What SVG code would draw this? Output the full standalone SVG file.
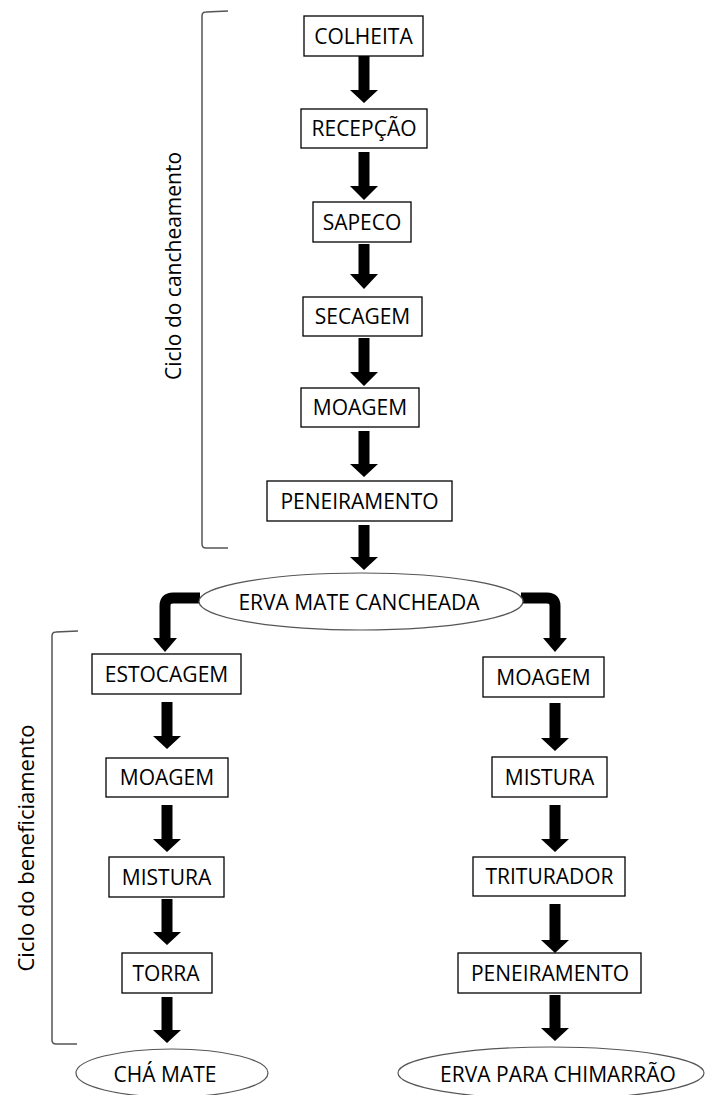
<svg xmlns="http://www.w3.org/2000/svg" width="706" height="1095" viewBox="0 0 706 1095">
<style>
.box{fill:#fff;stroke:#000;stroke-width:1.3}
.ell{fill:#fff;stroke:#555;stroke-width:1.2}
.t{font-family:"Open Sans","Liberation Sans",sans-serif;font-size:21px;fill:#000;text-anchor:middle}
.lbl{font-family:"Open Sans","Liberation Sans",sans-serif;font-size:21px;fill:#000;text-anchor:middle}
.ar{fill:#000}
.bend{fill:none;stroke:#000;stroke-width:11}
.br{fill:none;stroke:#555;stroke-width:1.5}
</style>
<rect width="706" height="1095" fill="#fff"/>
<g id="brackets">
<path class="br" d="M228,11 L206,12 Q202,12 202,16 V544 Q202,548 206,548 L228,548"/>
<path class="br" d="M78,631 L56,632 Q52,632 52,636 V1040 Q52,1044 56,1044 L77,1044"/>
<text class="lbl" transform="translate(181,266) rotate(-90)">Ciclo do cancheamento</text>
<text class="lbl" transform="translate(34,848) rotate(-90)" style="font-size:22px">Ciclo do beneficiamento</text>
</g>
<g id="connectors">
<polygon class="ar" points="358.5,56 369.5,56 369.5,90 378,90 364,103 350,90 358.5,90"/>
<polygon class="ar" points="358.5,152 369.5,152 369.5,186 378,186 364,200 350,186 358.5,186"/>
<polygon class="ar" points="358.5,244 369.5,244 369.5,274 378,274 364,289 350,274 358.5,274"/>
<polygon class="ar" points="358.5,338 369.5,338 369.5,372 378,372 364,386 350,372 358.5,372"/>
<polygon class="ar" points="358.5,431 369.5,431 369.5,464 378,464 364,477 350,464 358.5,464"/>
<polygon class="ar" points="358.5,525 369.5,525 369.5,557 378,557 364,570 350,557 358.5,557"/>
<path class="bend" d="M200,598 H173 Q165,598 165,606 V639"/>
<polygon class="ar" points="153,638 177,638 165,652"/>
<path class="bend" d="M521,598 H547 Q555,598 555,606 V639"/>
<polygon class="ar" points="543,638 567,638 555,652"/>
<polygon class="ar" points="161.5,702 172.5,702 172.5,736 181,736 167,749 153,736 161.5,736"/>
<polygon class="ar" points="161.5,805 172.5,805 172.5,839 181,839 167,852 153,839 161.5,839"/>
<polygon class="ar" points="161.5,899 172.5,899 172.5,932 181,932 167,945 153,932 161.5,932"/>
<polygon class="ar" points="161.5,997 172.5,997 172.5,1030 181,1030 167,1043 153,1030 161.5,1030"/>
<polygon class="ar" points="549.5,703 560.5,703 560.5,738 569,738 555,751 541,738 549.5,738"/>
<polygon class="ar" points="549.5,805 560.5,805 560.5,839 569,839 555,852 541,839 549.5,839"/>
<polygon class="ar" points="549.5,904 560.5,904 560.5,940 569,940 555,953 541,940 549.5,940"/>
<polygon class="ar" points="549.5,995 560.5,995 560.5,1028 569,1028 555,1041 541,1028 549.5,1028"/>
</g>
<g id="colheita"><rect class="box" x="304" y="16" width="119" height="40"/><text class="t" x="363.5" y="43.5">COLHEITA</text></g>
<g id="recepcao"><rect class="box" x="301" y="109" width="126" height="39"/><text class="t" x="364" y="136">RECEPÇÃO</text></g>
<g id="sapeco"><rect class="box" x="313" y="202" width="98" height="40"/><text class="t" x="362" y="229.5">SAPECO</text></g>
<g id="secagem"><rect class="box" x="303" y="297" width="119" height="39"/><text class="t" x="362.5" y="324">SECAGEM</text></g>
<g id="moagem1"><rect class="box" x="301" y="388" width="118" height="39"/><text class="t" x="360" y="415">MOAGEM</text></g>
<g id="peneiramento1"><rect class="box" x="267" y="481" width="185" height="40"/><text class="t" x="359.5" y="508.5">PENEIRAMENTO</text></g>
<g id="erva-cancheada"><ellipse class="ell" cx="361" cy="601.5" rx="162" ry="28.5"/><text class="t" x="359" y="610">ERVA MATE CANCHEADA</text></g>
<g id="estocagem"><rect class="box" x="92" y="654" width="149" height="40"/><text class="t" x="166.5" y="681.5">ESTOCAGEM</text></g>
<g id="moagem2"><rect class="box" x="106" y="758" width="122" height="39"/><text class="t" x="167" y="785">MOAGEM</text></g>
<g id="mistura1"><rect class="box" x="109" y="857" width="115" height="40"/><text class="t" x="166.5" y="884.5">MISTURA</text></g>
<g id="torra"><rect class="box" x="122" y="953" width="90" height="40"/><text class="t" x="166" y="980.5">TORRA</text></g>
<g id="cha-mate"><ellipse class="ell" cx="172" cy="1073" rx="96" ry="24"/><text class="t" x="165" y="1082">CHÁ MATE</text></g>
<g id="moagem3"><rect class="box" x="483" y="657" width="121" height="40"/><text class="t" x="543.5" y="684.5">MOAGEM</text></g>
<g id="mistura2"><rect class="box" x="492" y="757" width="115" height="40"/><text class="t" x="549.5" y="784.5">MISTURA</text></g>
<g id="triturador"><rect class="box" x="473" y="857" width="152" height="39"/><text class="t" x="549.5" y="884">TRITURADOR</text></g>
<g id="peneiramento2"><rect class="box" x="458" y="953" width="183" height="40"/><text class="t" x="550" y="980.5">PENEIRAMENTO</text></g>
<g id="erva-chimarrao"><ellipse class="ell" cx="551" cy="1073" rx="153" ry="26"/><text class="t" x="558" y="1082">ERVA PARA CHIMARRÃO</text></g>
</svg>
